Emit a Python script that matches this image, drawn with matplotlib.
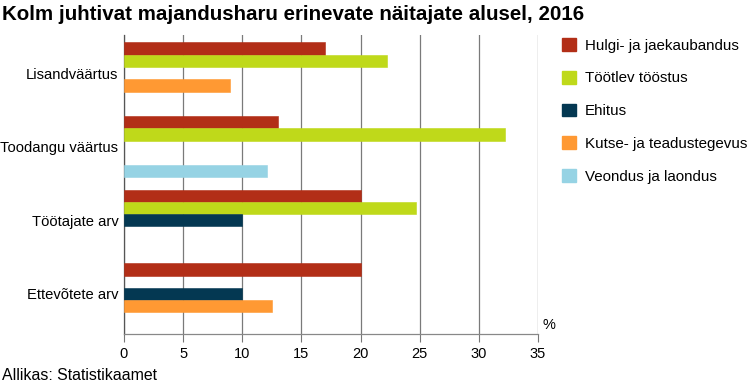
import numpy as np
import matplotlib.pyplot as plt
from matplotlib.patches import Patch

plt.rcParams['font.family'] = ['Liberation Sans', 'DejaVu Sans']

# andmed
categories = ['Lisandväärtus', 'Toodangu väärtus', 'Töötajate arv', 'Ettevõtete arv']
series = ['Hulgi- ja jaekaubandus', 'Töötlev tööstus', 'Ehitus',
          'Kutse- ja teadustegevus', 'Veondus ja laondus']
hulgi = [17.0, 13.0, 20.0, 20.0]
tootlev = [22.2, 32.2, 24.7, np.nan]
ehitus = [np.nan, np.nan, 10.0, 10.0]
kutse = [9.0, np.nan, np.nan, 12.5]
veondus = [np.nan, 12.1, np.nan, np.nan]
colors = ['#B22E17', '#BFD91A', '#043852', '#FF9933', '#96D3E4']
xticks = [0, 5, 10, 15, 20, 25, 30, 35]

fig = plt.figure(figsize=(7.54, 3.87), dpi=100)
ax = fig.add_axes([124 / 754, 53 / 387, 414 / 754, 299 / 387])

y = np.arange(len(categories))
h = 0.167
values = [hulgi, tootlev, ehitus, kutse, veondus]
for i, (vals, c) in enumerate(zip(values, colors)):
    ax.barh(y + (i - 2) * h, vals, height=h, color=c, edgecolor=c,
            linewidth=0.4, zorder=3)

ax.set_xlim(0, 35)
ax.set_ylim(3.544, -0.517)
ax.set_xticks(xticks)
ax.set_yticks(y)
ax.set_yticklabels(categories, fontsize=10.6)
ax.tick_params(axis='y', length=0, pad=4)
ax.tick_params(axis='x', length=6, color='#777777', labelsize=10.5, pad=3)
ax.xaxis.grid(True, color='#7a7a7a', linewidth=0.9, zorder=0)
ax.set_axisbelow(True)
for s in ['top', 'right']:
    ax.spines[s].set_visible(False)
ax.spines['left'].set_color('#555555')
ax.spines['bottom'].set_color('#888888')
ax.spines['left'].set_linewidth(0.9)
ax.spines['bottom'].set_linewidth(0.9)

ax.text(1.012, 0.008, '%', transform=ax.transAxes, ha='left', va='bottom',
        fontsize=10.5)

handles = [Patch(facecolor=c, edgecolor=c) for c in colors]
fig.legend(handles, series, loc='upper left', bbox_to_anchor=(562 / 754, 1 - 38 / 387),
           frameon=False, fontsize=10.9, handlelength=0.93, handleheight=0.93,
           handletextpad=0.6, labelspacing=1.2, borderpad=0, borderaxespad=0)

fig.text(0.003, 1 - 15 / 387, 'Kolm juhtivat majandusharu erinevate näitajate alusel, 2016',
         fontsize=14.8, fontweight='bold', ha='left', va='center')
fig.text(0.003, 1 - 375 / 387, 'Allikas: Statistikaamet', fontsize=11.4,
         ha='left', va='center')

fig.savefig('out.png', dpi=100)
